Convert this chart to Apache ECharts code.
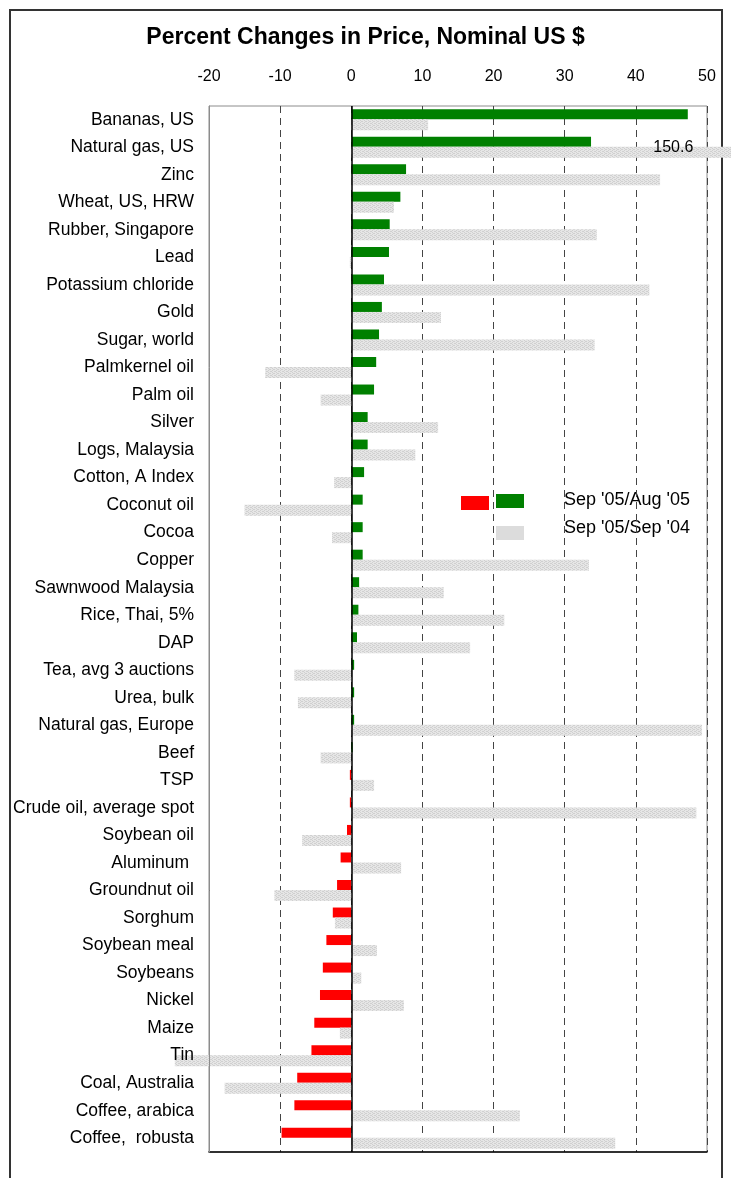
<!DOCTYPE html>
<html>
<head>
<meta charset="utf-8">
<script src="https://cdn.jsdelivr.net/npm/echarts/dist/echarts.min.js"></script>
<style>
  html, body { margin: 0; padding: 0; background: #fff; }
  #chart { width: 731px; height: 1178px; }
</style>
</head>
<body>
<div id="chart"></div>
<script>
// commodities, top to bottom
var categories = ['Bananas, US', 'Natural gas, US', 'Zinc', 'Wheat, US, HRW', 'Rubber, Singapore', 'Lead',
  'Potassium chloride', 'Gold', 'Sugar, world', 'Palmkernel oil', 'Palm oil', 'Silver', 'Logs, Malaysia',
  'Cotton, A Index', 'Coconut oil', 'Cocoa', 'Copper', 'Sawnwood Malaysia', 'Rice, Thai, 5%', 'DAP',
  'Tea, avg 3 auctions', 'Urea, bulk', 'Natural gas, Europe', 'Beef', 'TSP', 'Crude oil, average spot',
  'Soybean oil', 'Aluminum ', 'Groundnut oil', 'Sorghum', 'Soybean meal', 'Soybeans', 'Nickel', 'Maize',
  'Tin', 'Coal, Australia', 'Coffee, arabica', 'Coffee,  robusta'];

// Sep '05 / Aug '05
var monthChange = [47.3, 33.7, 7.7, 6.9, 5.4, 5.3, 4.6, 4.3, 3.9, 3.5, 3.2, 2.3, 2.3, 1.8, 1.6, 1.6, 1.6,
  1.1, 1.0, 0.8, 0.4, 0.4, 0.4, 0.2, -0.2, -0.2, -0.6, -1.5, -2.0, -2.6, -3.5, -4.0, -4.4, -5.2, -5.6,
  -7.6, -8.0, -9.8];

// Sep '05 / Sep '04
var yearChange = [10.8, 150.6, 43.4, 6.0, 34.5, -0.2, 41.9, 12.6, 34.2, -12.1, -4.3, 12.2, 9.0, -2.4,
  -15.0, -2.7, 33.4, 13.0, 21.5, 16.7, -8.0, -7.5, 49.3, -4.3, 3.2, 48.5, -6.9, 7.0, -10.8, -2.3, 3.6,
  1.4, 7.4, -1.6, -24.8, -17.8, 23.7, 37.1];

var seriesNames = ["Sep '05/Aug '05", "Sep '05/Sep '04"];
var xMin = -20, xMax = 50, xStep = 10;

var FONT = "'Liberation Sans', Arial, sans-serif";

// grey speckled fill like the original
var pat = document.createElement('canvas');
pat.width = 4; pat.height = 4;
var pctx = pat.getContext('2d');
pctx.fillStyle = '#e6e6e6'; pctx.fillRect(0, 0, 4, 4);
pctx.fillStyle = '#d0d0d0';
pctx.fillRect(0, 0, 1, 1); pctx.fillRect(2, 1, 1, 1); pctx.fillRect(0, 2, 1, 1); pctx.fillRect(2, 3, 1, 1);
pctx.fillRect(1, 1, 1, 1); pctx.fillRect(3, 3, 1, 1);

var option = {
  animation: false,
  backgroundColor: '#fff',
  title: {
    text: 'Percent Changes in Price, Nominal US $',
    left: 'center',
    top: 21,
    textStyle: { fontFamily: FONT, fontSize: 23, fontWeight: 'bold', color: '#000' }
  },
  grid: {
    left: 209, right: 24, top: 106, bottom: 26,
    show: true, borderColor: '#8c8c8c', borderWidth: 1
  },
  xAxis: [{
    type: 'value',
    position: 'top',
    min: xMin, max: xMax, interval: xStep,
    axisLine: { show: false },
    axisTick: { show: false },
    axisLabel: { color: '#000', fontFamily: FONT, fontSize: 16, margin: 21 },
    splitLine: { show: true, lineStyle: { color: '#444', type: [7, 5], width: 1 } }
  }, {
    type: 'value',
    position: 'bottom',
    min: xMin, max: xMax, interval: xStep,
    axisLine: { show: true, onZero: false, lineStyle: { color: '#000', width: 1.5 } },
    axisTick: { show: false },
    axisLabel: { show: false },
    splitLine: { show: false }
  }],
  yAxis: {
    type: 'category',
    data: categories,
    inverse: true,
    z: 10,
    axisLine: { show: true, onZero: false, lineStyle: { color: '#8c8c8c' } },
    axisTick: { show: false },
    axisLabel: { color: '#000', fontFamily: FONT, fontSize: 17.5, margin: 15, padding: [0, 0, 6, 0] }
  },
  series: [{
    name: seriesNames[0],
    type: 'bar',
    data: monthChange,
    barWidth: 10,
    barGap: '0%',
    itemStyle: {
      color: function (p) { return p.value >= 0 ? '#008000' : '#ff0000'; }
    },
    markLine: {
      silent: true,
      symbol: 'none',
      label: { show: false },
      lineStyle: { color: '#000', type: 'solid', width: 1.5 },
      data: [{ xAxis: 0 }]
    }
  }, {
    name: seriesNames[1],
    type: 'bar',
    data: yearChange.map(function (v) {
      if (v > xMax) {
        return {
          value: v,
          label: {
            show: true, position: [322, 1], align: 'center', verticalAlign: 'middle',
            color: '#000', fontFamily: FONT, fontSize: 16,
            formatter: function (p) { return p.value.toFixed(1); }
          }
        };
      }
      return v;
    }),
    barWidth: 11,
    clip: false,
    itemStyle: { color: { image: pat, repeat: 'repeat' } }
  }],
  graphic: [
    // outer frame
    { type: 'rect', shape: { x: 10, y: 10, width: 712, height: 1200 }, style: { fill: 'none', stroke: '#333', lineWidth: 2 }, silent: true },
    // legend
    { type: 'rect', shape: { x: 461, y: 496, width: 28, height: 14 }, style: { fill: '#ff0000' } },
    { type: 'rect', shape: { x: 496, y: 494, width: 28, height: 14 }, style: { fill: '#008000' } },
    { type: 'text', x: 564, y: 500, style: { text: seriesNames[0], fill: '#000', font: '18px ' + FONT, textVerticalAlign: 'middle' } },
    { type: 'rect', shape: { x: 496, y: 526, width: 28, height: 14 }, style: { fill: '#dcdcdc' } },
    { type: 'text', x: 564, y: 528, style: { text: seriesNames[1], fill: '#000', font: '18px ' + FONT, textVerticalAlign: 'middle' } }
  ]
};

var myChart = echarts.init(document.getElementById('chart'));
myChart.setOption(option);
</script>
</body>
</html>
